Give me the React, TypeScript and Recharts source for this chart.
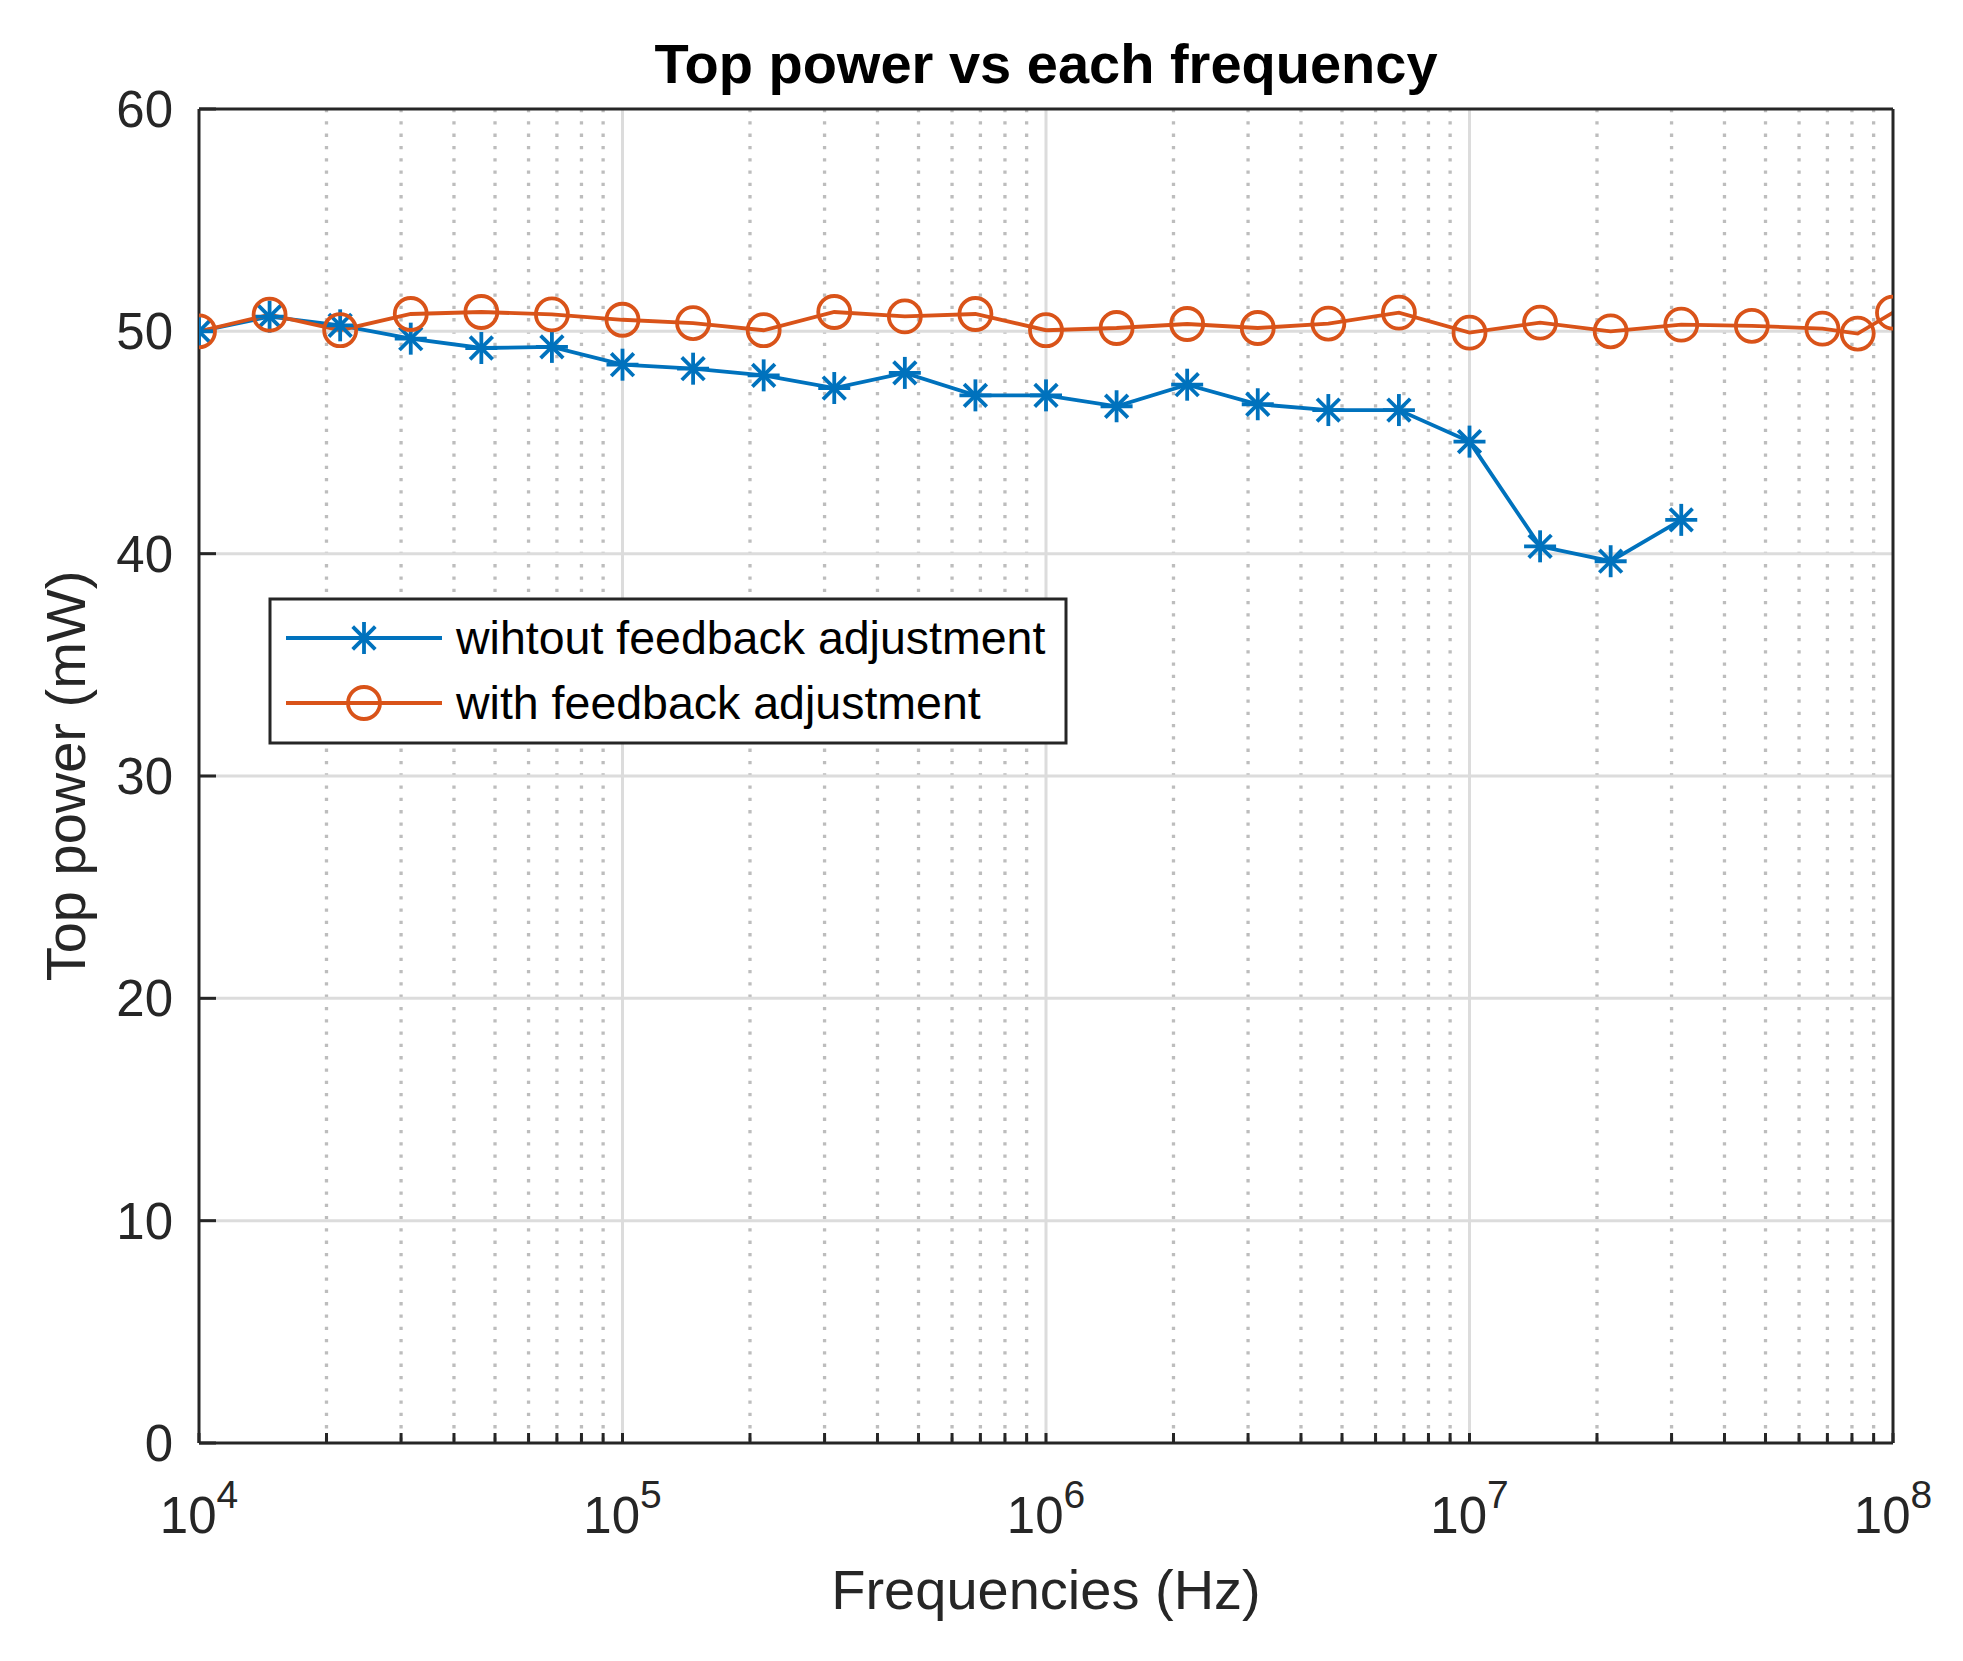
import React from 'react'
import { LineChart, Line, XAxis, YAxis, CartesianGrid } from 'recharts'

const BLUE = '#0072BD'
const ORANGE = '#D95319'
const AXIS = '#262626'
const FONT = '"Liberation Sans", Arial, Helvetica, sans-serif'

// frequencies (Hz), six points per decade
const freqWithout = [
  10000, 14678, 21544, 31623, 46416, 68129,
  100000, 146780, 215440, 316230, 464160, 681290,
  1000000, 1467800, 2154400, 3162300, 4641600, 6812900,
  10000000, 14678000, 21544000, 31623000,
]
const powerWithout = [
  50.0, 50.66, 50.27, 49.67, 49.25, 49.3,
  48.5, 48.32, 48.02, 47.45, 48.13, 47.12,
  47.12, 46.63, 47.6, 46.72, 46.46, 46.46,
  45.04, 40.33, 39.66, 41.52,
]

const freqWith = [
  10000, 14678, 21544, 31623, 46416, 68129,
  100000, 146780, 215440, 316230, 464160, 681290,
  1000000, 1467800, 2154400, 3162300, 4641600, 6812900,
  10000000, 14678000, 21544000, 31623000, 46416000, 68129000,
  82540000, 100000000,
]
const powerWith = [
  50.0, 50.75, 50.05, 50.78, 50.87, 50.76,
  50.52, 50.37, 50.05, 50.87, 50.67, 50.78,
  50.05, 50.15, 50.33, 50.15, 50.35, 50.84,
  49.94, 50.39, 50.0, 50.3, 50.25, 50.12,
  49.9, 50.84,
]

const decadeTicks = [1e4, 1e5, 1e6, 1e7, 1e8]
const minorTicks = [
  2e4, 3e4, 4e4, 5e4, 6e4, 7e4, 8e4, 9e4,
  2e5, 3e5, 4e5, 5e5, 6e5, 7e5, 8e5, 9e5,
  2e6, 3e6, 4e6, 5e6, 6e6, 7e6, 8e6, 9e6,
  2e7, 3e7, 4e7, 5e7, 6e7, 7e7, 8e7, 9e7,
]
const xTicks = [...decadeTicks, ...minorTicks].sort((a, b) => a - b)
const yTicks = [0, 10, 20, 30, 40, 50, 60]

const seriesNames = ['wihtout feedback adjustment', 'with feedback adjustment']

const W = 1963
const H = 1661
// plot box: x 199..1893, y 109..1443
const M = { top: 89, right: 50, bottom: 118, left: 79 }

function zip(xs: number[], ys: number[]) {
  return xs.map((f, i) => ({ f, p: ys[i] }))
}

function Star({ cx, cy }: { cx?: number; cy?: number }) {
  if (cx == null || cy == null) return null
  const r = 16
  const d = 11.3
  return (
    <g stroke={BLUE} strokeWidth={3.8}>
      <line x1={cx - r} y1={cy} x2={cx + r} y2={cy} />
      <line x1={cx} y1={cy - r} x2={cx} y2={cy + r} />
      <line x1={cx - d} y1={cy - d} x2={cx + d} y2={cy + d} />
      <line x1={cx - d} y1={cy + d} x2={cx + d} y2={cy - d} />
    </g>
  )
}

function Ring({ cx, cy }: { cx?: number; cy?: number }) {
  if (cx == null || cy == null) return null
  return <circle cx={cx} cy={cy} r={16} fill="none" stroke={ORANGE} strokeWidth={3.8} />
}

function XTick(props: any) {
  const { x, y, payload } = props
  const v = payload.value
  if (!decadeTicks.includes(v)) return null
  const exp = Math.round(Math.log10(v))
  return (
    <text x={x} y={y} textAnchor="middle" fontFamily={FONT} fontSize={51} fill={AXIS}>
      10
      <tspan dy={-25} fontSize={39}>{exp}</tspan>
    </text>
  )
}

function YTick(props: any) {
  const { x, y, payload } = props
  return (
    <text x={x} y={y} dy={18} textAnchor="end" fontFamily={FONT} fontSize={51} fill={AXIS}>
      {payload.value}
    </text>
  )
}

function Overlay() {
  const rows = [
    { y: 638, color: BLUE, marker: <Star cx={364} cy={638} /> },
    { y: 703, color: ORANGE, marker: <Ring cx={364} cy={703} /> },
  ]
  return (
    <svg width={W} height={H} style={{ position: 'absolute', left: 0, top: 0, pointerEvents: 'none' }}>
      <text x={1046} y={83} textAnchor="middle" fontFamily={FONT} fontSize={56} fontWeight="bold" fill="#000">
        Top power vs each frequency
      </text>
      <text x={1046} y={1609} textAnchor="middle" fontFamily={FONT} fontSize={56} fill={AXIS}>
        Frequencies (Hz)
      </text>
      <text
        x={85}
        y={776}
        textAnchor="middle"
        fontFamily={FONT}
        fontSize={56}
        fill={AXIS}
        transform="rotate(-90 85 776)"
      >
        Top power (mW)
      </text>
      <rect x={270} y={599} width={796} height={144} fill="#fff" stroke={AXIS} strokeWidth={3} />
      {rows.map((r, i) => (
        <g key={i}>
          <line x1={286} y1={r.y} x2={442} y2={r.y} stroke={r.color} strokeWidth={3.8} />
          {r.marker}
          <text x={456} y={r.y + 16} fontFamily={FONT} fontSize={46.5} fill="#000">
            {seriesNames[i]}
          </text>
        </g>
      ))}
    </svg>
  )
}

export default function App() {
  return (
    <div style={{ position: 'relative', width: W, height: H, background: '#fff' }}>
      <style>{'body{margin:0}'}</style>
      <LineChart width={W} height={H} margin={M}>
        <CartesianGrid
          stroke="#bdbdbd"
          strokeWidth={3.3}
          strokeDasharray="3.3 9"
          horizontal={false}
          verticalValues={minorTicks}
        />
        <CartesianGrid
          stroke="#dcdcdc"
          strokeWidth={3}
          verticalValues={decadeTicks.slice(1, -1)}
          horizontalValues={yTicks.slice(1, -1)}
        />
        <XAxis
          dataKey="f"
          type="number"
          scale="log"
          domain={[1e4, 1e8]}
          ticks={xTicks}
          interval={0}
          height={100}
          tickSize={-10}
          tickMargin={100}
          tick={<XTick />}
          axisLine={{ stroke: AXIS, strokeWidth: 3 }}
          tickLine={{ stroke: AXIS, strokeWidth: 3 }}
          allowDataOverflow
        />
        <XAxis
          xAxisId="top"
          orientation="top"
          dataKey="f"
          type="number"
          scale="log"
          domain={[1e4, 1e8]}
          ticks={xTicks}
          interval={0}
          height={20}
          tickSize={-10}
          tick={false}
          axisLine={{ stroke: AXIS, strokeWidth: 3 }}
          tickLine={{ stroke: AXIS, strokeWidth: 3 }}
          allowDataOverflow
        />
        <YAxis
          type="number"
          domain={[0, 60]}
          ticks={yTicks}
          interval={0}
          width={120}
          tickSize={-17}
          tickMargin={43}
          tick={<YTick />}
          axisLine={{ stroke: AXIS, strokeWidth: 3 }}
          tickLine={{ stroke: AXIS, strokeWidth: 3 }}
        />
        <YAxis
          yAxisId="right"
          orientation="right"
          type="number"
          domain={[0, 60]}
          ticks={yTicks}
          interval={0}
          width={20}
          tickSize={-17}
          tick={false}
          axisLine={{ stroke: AXIS, strokeWidth: 3 }}
          tickLine={{ stroke: AXIS, strokeWidth: 3 }}
        />
        <Line
          data={zip(freqWithout, powerWithout)}
          dataKey="p"
          name={seriesNames[0]}
          type="linear"
          stroke={BLUE}
          strokeWidth={3.8}
          dot={(p: any) => <Star key={p.index} cx={p.cx} cy={p.cy} />}
          isAnimationActive={false}
        />
        <Line
          data={zip(freqWith, powerWith)}
          dataKey="p"
          name={seriesNames[1]}
          type="linear"
          stroke={ORANGE}
          strokeWidth={3.8}
          dot={(p: any) => <Ring key={p.index} cx={p.cx} cy={p.cy} />}
          isAnimationActive={false}
        />
      </LineChart>
      <Overlay />
    </div>
  )
}
